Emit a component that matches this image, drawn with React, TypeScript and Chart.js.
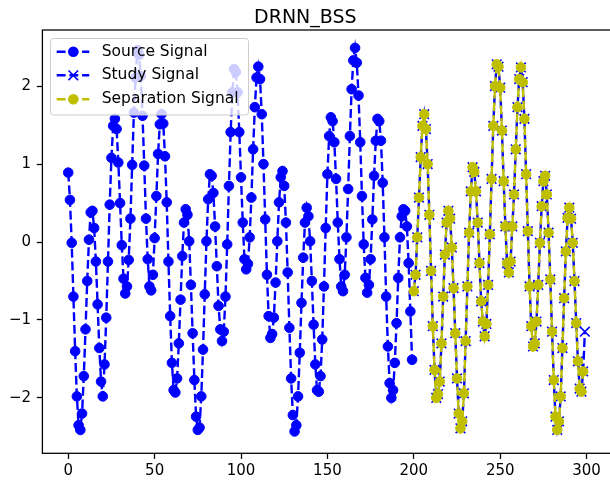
import React, { useEffect, useRef } from "react";
import { Chart, registerables } from "chart.js";

Chart.register(...registerables);

const TITLE = "DRNN_BSS";
const LEGEND_LABELS = ["Source Signal", "Study Signal", "Separation Signal"];
const X_TICKS = [0, 50, 100, 150, 200, 250, 300];
const Y_TICKS = [-2, -1, 0, 1, 2];
const SOURCE_START = 0;
const STUDY_START = 200;
const SEPARATION_START = 200;

const sourceSignal = [
  0.89, 0.54, -0.01, -0.7, -1.4, -1.98, -2.35, -2.41, -2.2, -1.72,
  -1.12, -0.5, 0.03, 0.38, 0.4, 0.18, -0.25, -0.8, -1.36, -1.79,
  -1.98, -1.57, -0.97, -0.25, 0.48, 1.08, 1.49, 1.58, 1.45, 1.02,
  0.5, -0.04, -0.47, -0.66, -0.57, -0.23, 0.3, 0.99, 1.66, 2.11,
  2.46, 2.4, 2.13, 1.62, 0.98, 0.3, -0.22, -0.57, -0.62, -0.42,
  0.05, 0.59, 1.13, 1.51, 1.64, 1.52, 1.1, 0.51, -0.25, -0.95,
  -1.55, -1.9, -1.93, -1.75, -1.3, -0.74, -0.18, 0.25, 0.42, 0.35,
  0.01, -0.55, -1.17, -1.77, -2.24, -2.41, -2.38, -1.98, -1.38, -0.67,
  0.01, 0.55, 0.87, 0.85, 0.63, 0.2, -0.31, -0.82, -1.12, -1.27,
  -1.15, -0.7, -0.03, 0.72, 1.41, 1.92, 2.22, 2.18, 1.92, 1.41,
  0.83, 0.25, -0.22, -0.35, -0.28, 0.06, 0.57, 1.19, 1.73, 2.11,
  2.25, 2.09, 1.64, 1.0, 0.29, -0.42, -0.95, -1.23, -1.18, -0.97,
  -0.52, 0.01, 0.51, 0.83, 0.91, 0.72, 0.25, -0.39, -1.1, -1.75,
  -2.22, -2.43, -2.35, -1.98, -1.42, -0.78, -0.2, 0.25, 0.44, 0.33,
  0.01, -0.5, -1.06, -1.57, -1.9, -1.92, -1.72, -1.25, -0.57, 0.18,
  0.87, 1.36, 1.6, 1.55, 1.28, 0.81, 0.25, -0.22, -0.57, -0.63,
  -0.42, 0.06, 0.68, 1.36, 1.96, 2.33, 2.49, 2.3, 1.88, 1.28,
  0.59, -0.03, -0.46, -0.65, -0.55, -0.22, 0.29, 0.85, 1.3, 1.58,
  1.55, 1.3, 0.76, 0.06, -0.7, -1.34, -1.81, -2.0, -1.9, -1.55,
  -1.04, -0.46, 0.06, 0.33, 0.42, 0.4, 0.2, -0.27, -0.89, -1.51,
];

const separationSignal = [
  -0.63, -0.42, 0.06, 0.57, 1.09, 1.49, 1.64, 1.45, 1.0, 0.35,
  -0.37, -1.08, -1.64, -2.0, -1.95, -1.79, -1.3, -0.7, -0.16, 0.25,
  0.4, 0.3, -0.07, -0.59, -1.17, -1.75, -2.2, -2.39, -2.3, -1.94,
  -1.27, -0.57, 0.12, 0.65, 0.96, 0.9, 0.65, 0.25, -0.27, -0.76,
  -1.02, -1.21, -1.05, -0.55, 0.1, 0.81, 1.49, 2.0, 2.28, 2.25,
  1.98, 1.43, 0.78, 0.2, -0.27, -0.39, -0.25, 0.2, 0.61, 1.19,
  1.73, 2.09, 2.24, 2.05, 1.58, 0.87, 0.14, -0.57, -1.08, -1.34,
  -1.3, -1.02, -0.55, -0.01, 0.46, 0.78, 0.85, 0.61, 0.12, -0.48,
  -1.15, -1.77, -2.24, -2.41, -2.3, -1.98, -1.36, -0.72, -0.12, 0.31,
  0.44, 0.3, -0.01, -0.5, -1.04, -1.53, -1.88, -1.92, -1.66,
];

const studySignal = [
  -0.63, -0.42, 0.06, 0.57, 1.09, 1.49, 1.64, 1.45, 1.0, 0.35,
  -0.37, -1.08, -1.64, -2.0, -1.95, -1.79, -1.3, -0.7, -0.16, 0.25,
  0.4, 0.3, -0.07, -0.59, -1.17, -1.75, -2.2, -2.39, -2.3, -1.94,
  -1.27, -0.57, 0.12, 0.65, 0.96, 0.9, 0.65, 0.25, -0.27, -0.76,
  -1.02, -1.21, -1.05, -0.55, 0.1, 0.81, 1.49, 2.0, 2.28, 2.25,
  1.98, 1.43, 0.78, 0.2, -0.27, -0.39, -0.25, 0.2, 0.61, 1.19,
  1.73, 2.09, 2.24, 2.05, 1.58, 0.87, 0.14, -0.57, -1.08, -1.34,
  -1.3, -1.02, -0.55, -0.01, 0.46, 0.78, 0.85, 0.61, 0.12, -0.48,
  -1.15, -1.77, -2.24, -2.41, -2.3, -1.98, -1.36, -0.72, -0.12, 0.31,
  0.44, 0.3, -0.01, -0.5, -1.04, -1.53, -1.88, -1.92, -1.66, -1.15,
];

const BLUE = "#0000ff";
const OLIVE = "#bfbf00";
const FONT = "'DejaVu Sans', 'Liberation Sans', sans-serif";
const DASH = [8.9, 3.8];

const fmtTick = (v: number) => (v < 0 ? "\u2212" + Math.abs(v) : String(v));

export default function App() {
  const ref = useRef<HTMLCanvasElement>(null);

  useEffect(() => {
    document.body.style.margin = "0";
    const canvas = ref.current;
    if (!canvas) return;

    const toPts = (arr: number[], start: number) =>
      arr.map((y, i) => ({ x: start + i, y }));

    const framePlugin = {
      id: "frame",
      afterDatasetsDraw(chart: any) {
        const { ctx, chartArea } = chart;
        ctx.save();
        ctx.strokeStyle = "#000";
        ctx.lineWidth = 1.28;
        ctx.setLineDash([]);
        ctx.strokeRect(
          chartArea.left,
          chartArea.top,
          chartArea.right - chartArea.left,
          chartArea.bottom - chartArea.top
        );
        ctx.restore();
      },
    };

    const legendPlugin = {
      id: "mplLegend",
      afterDraw(chart: any) {
        const ctx = chart.ctx;
        ctx.save();
        const bx = 50.5, by = 38.5, bw = 198, bh = 76.5, r = 3;
        ctx.beginPath();
        ctx.moveTo(bx + r, by);
        ctx.lineTo(bx + bw - r, by);
        ctx.quadraticCurveTo(bx + bw, by, bx + bw, by + r);
        ctx.lineTo(bx + bw, by + bh - r);
        ctx.quadraticCurveTo(bx + bw, by + bh, bx + bw - r, by + bh);
        ctx.lineTo(bx + r, by + bh);
        ctx.quadraticCurveTo(bx, by + bh, bx, by + bh - r);
        ctx.lineTo(bx, by + r);
        ctx.quadraticCurveTo(bx, by, bx + r, by);
        ctx.closePath();
        ctx.fillStyle = "rgba(255,255,255,0.8)";
        ctx.fill();
        ctx.strokeStyle = "#cccccc";
        ctx.lineWidth = 1;
        ctx.stroke();

        const rows = [
          { y: 51.7, color: BLUE, marker: "circle" },
          { y: 75.3, color: BLUE, marker: "x" },
          { y: 99.3, color: OLIVE, marker: "circle" },
        ];
        rows.forEach((row, i) => {
          ctx.strokeStyle = row.color;
          ctx.lineWidth = 2.4;
          ctx.setLineDash(DASH);
          ctx.beginPath();
          ctx.moveTo(56.7, row.y);
          ctx.lineTo(89.3, row.y);
          ctx.stroke();
          ctx.setLineDash([]);
          if (row.marker === "circle") {
            ctx.fillStyle = row.color;
            ctx.beginPath();
            ctx.arc(73.3, row.y, 5.3, 0, Math.PI * 2);
            ctx.fill();
          } else {
            ctx.lineWidth = 1.6;
            ctx.beginPath();
            ctx.moveTo(73.3 - 4.8, row.y - 4.8);
            ctx.lineTo(73.3 + 4.8, row.y + 4.8);
            ctx.moveTo(73.3 - 4.8, row.y + 4.8);
            ctx.lineTo(73.3 + 4.8, row.y - 4.8);
            ctx.stroke();
          }
          ctx.fillStyle = "#000";
          ctx.font = `15.5px ${FONT}`;
          ctx.textBaseline = "middle";
          ctx.textAlign = "left";
          ctx.fillText(LEGEND_LABELS[i], 101.7, row.y);
        });
        ctx.restore();
      },
    };

    const chart = new Chart(canvas, {
      type: "line",
      data: {
        datasets: [
          {
            label: LEGEND_LABELS[2],
            data: toPts(separationSignal, SEPARATION_START),
            order: 0,
            borderColor: OLIVE,
            backgroundColor: OLIVE,
            borderWidth: 2.4,
            borderDash: DASH,
            pointStyle: "circle",
            pointRadius: 4.8,
            pointBorderWidth: 1,
            pointBackgroundColor: OLIVE,
            pointBorderColor: OLIVE,
            tension: 0,
            fill: false,
          },
          {
            label: LEGEND_LABELS[1],
            data: toPts(studySignal, STUDY_START),
            order: 1,
            borderColor: BLUE,
            backgroundColor: BLUE,
            borderWidth: 2.4,
            borderDash: DASH,
            borderDashOffset: 6,
            pointStyle: "crossRot",
            pointRadius: 6.8,
            pointBorderWidth: 1.6,
            pointBackgroundColor: BLUE,
            pointBorderColor: BLUE,
            tension: 0,
            fill: false,
          },
          {
            label: LEGEND_LABELS[0],
            data: toPts(sourceSignal, SOURCE_START),
            order: 2,
            borderColor: BLUE,
            backgroundColor: BLUE,
            borderWidth: 2.4,
            borderDash: DASH,
            pointStyle: "circle",
            pointRadius: 4.8,
            pointBorderWidth: 1,
            pointBackgroundColor: BLUE,
            pointBorderColor: BLUE,
            tension: 0,
            fill: false,
          },
        ],
      },
      options: {
        responsive: false,
        animation: false,
        devicePixelRatio: 1,
        events: [],
        layout: { padding: { left: 0, right: 9.3, top: 0, bottom: 0 } },
        plugins: {
          legend: { display: false },
          tooltip: { enabled: false },
          title: {
            display: true,
            text: TITLE,
            color: "#000",
            font: { family: FONT, size: 19, weight: "normal", lineHeight: 1.2 },
            padding: { top: 6.4, bottom: 0.8 },
          },
        },
        scales: {
          x: {
            type: "linear",
            min: -14.95,
            max: 313.95,
            afterBuildTicks: (s: any) => {
              s.ticks = X_TICKS.map((v) => ({ value: v }));
            },
            afterFit: (s: any) => {
              s.height = 29.7;
              s.paddingLeft = 0;
              s.paddingRight = 0;
            },
            border: { display: false },
            grid: {
              drawOnChartArea: false,
              drawTicks: true,
              tickLength: 5.6,
              tickColor: "#000",
              tickWidth: 1.28,
              color: "#000",
            },
            ticks: {
              color: "#000",
              font: { family: FONT, size: 15 },
              padding: 3,
              maxRotation: 0,
              autoSkip: false,
              callback: (v: any) => fmtTick(Number(v)),
            },
          },
          y: {
            type: "linear",
            min: -2.71,
            max: 2.72,
            afterBuildTicks: (s: any) => {
              s.ticks = Y_TICKS.map((v) => ({ value: v }));
            },
            afterFit: (s: any) => {
              s.width = 42.4;
              s.paddingTop = 0;
              s.paddingBottom = 0;
            },
            border: { display: false },
            grid: {
              drawOnChartArea: false,
              drawTicks: true,
              tickLength: 5.6,
              tickColor: "#000",
              tickWidth: 1.28,
              color: "#000",
            },
            ticks: {
              color: "#000",
              font: { family: FONT, size: 15 },
              padding: 5.8,
              autoSkip: false,
              callback: (v: any) => fmtTick(Number(v)),
            },
          },
        },
      } as any,
      plugins: [framePlugin, legendPlugin],
    });

    return () => chart.destroy();
  }, []);

  return (
    <div
      style={{
        position: "fixed",
        left: 0,
        top: 0,
        width: 610,
        height: 483,
        overflow: "hidden",
        background: "#fff",
      }}
    >
      <canvas ref={ref} width={620} height={483} style={{ display: "block" }} />
    </div>
  );
}
